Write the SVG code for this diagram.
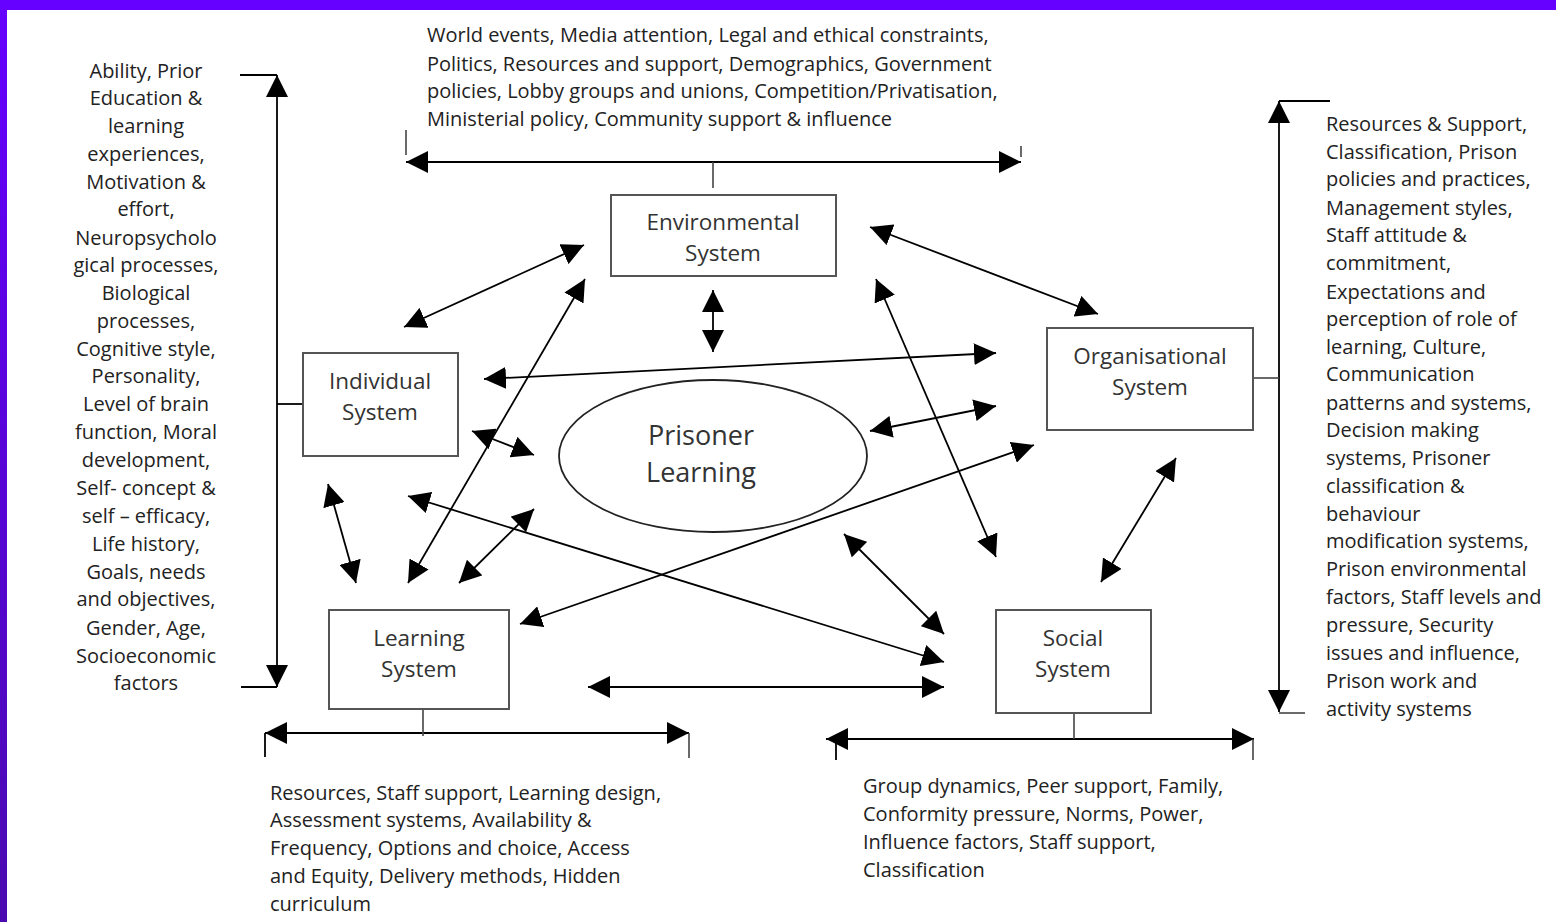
<svg xmlns="http://www.w3.org/2000/svg" width="1556" height="922" viewBox="0 0 1556 922">
<defs>
<linearGradient id="lg" x1="0" y1="0" x2="0" y2="1">
<stop offset="0" stop-color="#6600ff"/>
<stop offset="1" stop-color="#4a0ab0"/>
</linearGradient>
<marker id="ah" viewBox="0 0 22 22" refX="22" refY="11" markerWidth="22" markerHeight="22" markerUnits="userSpaceOnUse" orient="auto-start-reverse">
<path d="M0,0 L22,11 L0,22 z" fill="#000"/>
</marker>
<style>
.t{font-family:"Open Sans",Lato,sans-serif;font-size:20px;fill:#222}
.c{text-anchor:middle}
.n{font-family:"Open Sans",Lato,sans-serif;font-size:22.5px;fill:#333;text-anchor:middle}
.box{fill:#fff;stroke:#555;stroke-width:2}
.l{stroke:#000;stroke-width:1.8;fill:none}
.a{stroke:#000;stroke-width:1.8;fill:none;marker-start:url(#ah);marker-end:url(#ah)}
.g{stroke:#444;stroke-width:1.6;fill:none}
</style>
</defs>
<rect width="1556" height="922" fill="#fff"/>
<rect x="0" y="0" width="7" height="922" fill="url(#lg)"/>
<rect x="0" y="0" width="1556" height="10" fill="#6600ff"/>

<g id="connectors">
<line class="a" x1="406" y1="162" x2="1021" y2="162"/>
<line class="g" x1="406" y1="130" x2="406" y2="155"/>
<line class="g" x1="1021" y1="146" x2="1021" y2="157"/>
<line class="g" x1="713" y1="162" x2="713" y2="188"/>
<line class="a" x1="277" y1="75" x2="277" y2="687"/>
<line class="l" x1="240" y1="75" x2="277" y2="75"/>
<line class="l" x1="241" y1="687" x2="277" y2="687"/>
<line class="l" x1="277" y1="404" x2="303" y2="404"/>
<line class="a" x1="1279" y1="101" x2="1279" y2="712"/>
<line class="l" x1="1279" y1="101" x2="1330" y2="101"/>
<line class="g" x1="1279" y1="713" x2="1305" y2="713"/>
<line class="g" x1="1253" y1="378" x2="1279" y2="378"/>
<line class="a" x1="265" y1="733" x2="689" y2="733"/>
<line class="l" x1="265" y1="733" x2="265" y2="757"/>
<line class="g" x1="689" y1="733" x2="689" y2="758"/>
<line class="g" x1="423" y1="709" x2="423" y2="736"/>
<line class="a" x1="826" y1="739" x2="1254" y2="739"/>
<line class="l" x1="836" y1="739" x2="836" y2="760"/>
<line class="g" x1="1253" y1="739" x2="1253" y2="760"/>
<line class="g" x1="1074" y1="713" x2="1074" y2="739"/>
<line class="a" x1="404" y1="327" x2="584" y2="245"/>
<line class="a" x1="408" y1="583" x2="585" y2="279"/>
<line class="a" x1="713" y1="290" x2="713" y2="352"/>
<line class="a" x1="870" y1="227" x2="1098" y2="314"/>
<line class="a" x1="876" y1="279" x2="996" y2="557"/>
<line class="a" x1="484" y1="379" x2="996" y2="353"/>
<line class="a" x1="472" y1="431" x2="534" y2="455"/>
<line class="a" x1="328" y1="484" x2="356" y2="583"/>
<line class="a" x1="408" y1="496" x2="944" y2="662"/>
<line class="a" x1="459" y1="583" x2="534" y2="509"/>
<line class="a" x1="520" y1="624" x2="1034" y2="445"/>
<line class="a" x1="588" y1="687" x2="944" y2="687"/>
<line class="a" x1="870" y1="431" x2="996" y2="406"/>
<line class="a" x1="844" y1="534" x2="944" y2="634"/>
<line class="a" x1="1176" y1="458" x2="1101" y2="582"/>
</g>

<g id="environmental">
<rect class="box" x="611" y="195" width="225" height="81"/>
<text class="n" x="723" y="230">Environmental</text>
<text class="n" x="723" y="261">System</text>
</g>
<g id="individual">
<rect class="box" x="303" y="353" width="155" height="103"/>
<text class="n" x="380" y="389">Individual</text>
<text class="n" x="380" y="420">System</text>
</g>
<g id="organisational">
<rect class="box" x="1047" y="328" width="206" height="102"/>
<text class="n" x="1150" y="364">Organisational</text>
<text class="n" x="1150" y="395">System</text>
</g>
<g id="learning">
<rect class="box" x="329" y="610" width="180" height="99"/>
<text class="n" x="419" y="646">Learning</text>
<text class="n" x="419" y="677">System</text>
</g>
<g id="social">
<rect class="box" x="996" y="610" width="155" height="103"/>
<text class="n" x="1073" y="646">Social</text>
<text class="n" x="1073" y="677">System</text>
</g>
<g id="prisoner">
<ellipse cx="713" cy="456" rx="154" ry="76" fill="#fff" stroke="#222" stroke-width="1.8"/>
<text class="n" x="701" y="445" style="font-size:27px">Prisoner</text>
<text class="n" x="701" y="482" style="font-size:27px">Learning</text>
</g>

<g id="top-text" class="t">
<text x="427" y="42">World events, Media attention, Legal and ethical constraints,</text>
<text x="427" y="71">Politics, Resources and support, Demographics, Government</text>
<text x="427" y="98">policies, Lobby groups and unions, Competition/Privatisation,</text>
<text x="427" y="126">Ministerial policy, Community support &amp; influence</text>
</g>

<g id="left-text" class="t c">
<text x="146" y="78">Ability, Prior</text>
<text x="146" y="105">Education &amp;</text>
<text x="146" y="133">learning</text>
<text x="146" y="161">experiences,</text>
<text x="146" y="189">Motivation &amp;</text>
<text x="146" y="216">effort,</text>
<text x="146" y="245">Neuropsycholo</text>
<text x="146" y="272">gical processes,</text>
<text x="146" y="300">Biological</text>
<text x="146" y="328">processes,</text>
<text x="146" y="356">Cognitive style,</text>
<text x="146" y="383">Personality,</text>
<text x="146" y="411">Level of brain</text>
<text x="146" y="439">function, Moral</text>
<text x="146" y="467">development,</text>
<text x="146" y="495">Self- concept &amp;</text>
<text x="146" y="523">self – efficacy,</text>
<text x="146" y="551">Life history,</text>
<text x="146" y="579">Goals, needs</text>
<text x="146" y="606">and objectives,</text>
<text x="146" y="635">Gender, Age,</text>
<text x="146" y="663">Socioeconomic</text>
<text x="146" y="690">factors</text>
</g>

<g id="right-text" class="t">
<text x="1326" y="131">Resources &amp; Support,</text>
<text x="1326" y="159">Classification, Prison</text>
<text x="1326" y="186">policies and practices,</text>
<text x="1326" y="215">Management styles,</text>
<text x="1326" y="242">Staff attitude &amp;</text>
<text x="1326" y="270">commitment,</text>
<text x="1326" y="299">Expectations and</text>
<text x="1326" y="326">perception of role of</text>
<text x="1326" y="354">learning, Culture,</text>
<text x="1326" y="381">Communication</text>
<text x="1326" y="410">patterns and systems,</text>
<text x="1326" y="437">Decision making</text>
<text x="1326" y="465">systems, Prisoner</text>
<text x="1326" y="493">classification &amp;</text>
<text x="1326" y="521">behaviour</text>
<text x="1326" y="548">modification systems,</text>
<text x="1326" y="576">Prison environmental</text>
<text x="1326" y="604">factors, Staff levels and</text>
<text x="1326" y="632">pressure, Security</text>
<text x="1326" y="660">issues and influence,</text>
<text x="1326" y="688">Prison work and</text>
<text x="1326" y="716">activity systems</text>
</g>

<g id="bottom-left-text" class="t">
<text x="270" y="800">Resources, Staff support, Learning design,</text>
<text x="270" y="827">Assessment systems, Availability &amp;</text>
<text x="270" y="855">Frequency, Options and choice, Access</text>
<text x="270" y="883">and Equity, Delivery methods, Hidden</text>
<text x="270" y="911">curriculum</text>
</g>

<g id="bottom-right-text" class="t">
<text x="863" y="793">Group dynamics, Peer support, Family,</text>
<text x="863" y="821">Conformity pressure, Norms, Power,</text>
<text x="863" y="849">Influence factors, Staff support,</text>
<text x="863" y="877">Classification</text>
</g>
</svg>
